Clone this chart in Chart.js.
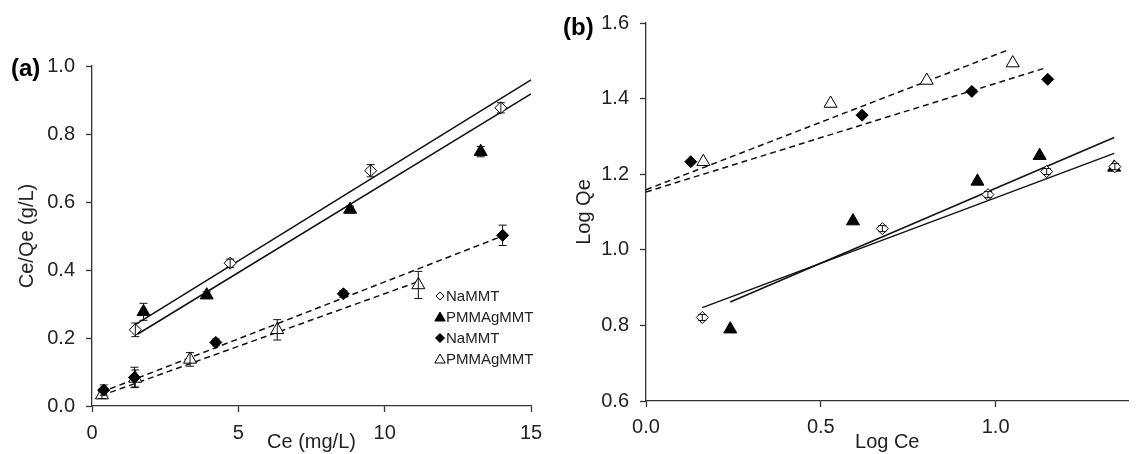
<!DOCTYPE html>
<html>
<head>
<meta charset="utf-8">
<script src="https://cdn.jsdelivr.net/npm/chart.js@4.4.0/dist/chart.umd.min.js"></script>
<style>
  html, body { margin: 0; padding: 0; background: #fff; overflow: hidden; }
  .panel { position: absolute; top: 0; }
</style>
</head>
<body>
<div class="panel" style="left:0"><canvas id="chartA" width="560" height="454"></canvas></div>
<div class="panel" style="left:560px"><canvas id="chartB" width="577" height="454"></canvas></div>
<script>
// ---- Panel (a): Langmuir, Ce vs Ce/Qe ----
const aNaOpenX = [1.48, 4.72, 9.52, 13.97];
const aNaOpenY = [0.224, 0.42, 0.692, 0.877];
const aNaOpenErr = [0.02, 0.012, 0.018, 0.015];
const aPmFillX = [1.76, 3.92, 8.82, 13.28];
const aPmFillY = [0.277, 0.326, 0.578, 0.748];
const aPmFillErr = [0.025, 0.01, 0.01, 0.015];
const aNaFillX = [0.4, 1.45, 4.23, 8.59, 14.03];
const aNaFillY = [0.047, 0.084, 0.187, 0.33, 0.502];
const aNaFillErr = [0.015, 0.03, 0.01, 0.01, 0.03];
const aPmOpenX = [0.34, 1.48, 3.35, 6.33, 11.15];
const aPmOpenY = [0.032, 0.081, 0.137, 0.224, 0.356];
const aPmOpenErr = [0.01, 0.025, 0.02, 0.03, 0.04];
// fitted lines, end points
const aFitSolid1X = [1.45, 15], aFitSolid1Y = [0.238, 0.959];
const aFitSolid2X = [1.55, 15], aFitSolid2Y = [0.211, 0.918];
const aFitDash1X = [0.3, 14.03], aFitDash1Y = [0.04, 0.50];
const aFitDash2X = [0.3, 11.15], aFitDash2Y = [0.03, 0.366];
const aLegend = ['NaMMT', 'PMMAgMMT', 'NaMMT', 'PMMAgMMT'];

// ---- Panel (b): Freundlich, Log Ce vs Log Qe ----
const bNaOpenX = [0.161, 0.676, 0.978, 1.146, 1.341];
const bNaOpenY = [0.821, 1.056, 1.146, 1.207, 1.22];
const bNaOpenErr = [0.008, 0.008, 0.008, 0.008, 0.008];
const bPmFillX = [0.241, 0.592, 0.948, 1.126, 1.339];
const bPmFillY = [0.79, 1.076, 1.181, 1.249, 1.218];
const bNaFillX = [0.128, 0.618, 0.932, 1.149];
const bNaFillY = [1.233, 1.356, 1.419, 1.451];
const bPmOpenX = [0.164, 0.528, 0.803, 1.049];
const bPmOpenY = [1.233, 1.387, 1.448, 1.494];
const bFitSolid1X = [0.161, 1.339], bFitSolid1Y = [0.847, 1.255];
const bFitSolid2X = [0.241, 1.339], bFitSolid2Y = [0.862, 1.297];
const bFitDash1X = [0.0, 1.039], bFitDash1Y = [1.159, 1.530];
const bFitDash2X = [0.0, 1.142], bFitDash2Y = [1.153, 1.481];

const FONT = '"Liberation Sans", Arial, sans-serif';
const INK = '#222';

const pts = (xs, ys) => xs.map((x, i) => ({ x, y: ys[i] }));

function marker(xs, ys, style, errors) {
    const open = style === 'openDiamond' || style === 'openTri';
    const shape = style.endsWith('Diamond') ? 'rectRot' : 'triangle';
    return {
        data: pts(xs, ys),
        errors,
        pointStyle: shape,
        pointRadius: shape === 'rectRot' ? 6 : 7.5,
        pointBackgroundColor: open ? '#fff' : '#000',
        pointBorderColor: '#000',
        pointBorderWidth: 1,
        showLine: false,
        order: 1
    };
}

function fitLine(xs, ys, dashed) {
    return {
        data: pts(xs, ys),
        showLine: true,
        borderColor: '#111',
        borderWidth: 1.5,
        borderDash: dashed ? [6, 4] : [],
        pointRadius: 0,
        order: 10
    };
}

const errorBars = {
    id: 'errorBars',
    afterDatasetsDraw(chart) {
        const { ctx, scales: { x, y } } = chart;
        ctx.save();
        ctx.strokeStyle = '#111';
        ctx.lineWidth = 1;
        chart.data.datasets.forEach(ds => {
            if (!ds.errors) return;
            ds.data.forEach((p, j) => {
                const e = ds.errors[j];
                if (!e) return;
                const px = x.getPixelForValue(p.x);
                const t = y.getPixelForValue(p.y + e), b = y.getPixelForValue(p.y - e);
                ctx.beginPath();
                ctx.moveTo(px, t); ctx.lineTo(px, b);
                ctx.moveTo(px - 4, t); ctx.lineTo(px + 4, t);
                ctx.moveTo(px - 4, b); ctx.lineTo(px + 4, b);
                ctx.stroke();
            });
        });
        ctx.restore();
    }
};

const panelLabel = {
    id: 'panelLabel',
    afterDraw(chart, args, opts) {
        const ctx = chart.ctx;
        ctx.save();
        ctx.font = 'bold 24px ' + FONT;
        ctx.fillStyle = '#000';
        ctx.textBaseline = 'middle';
        ctx.fillText(opts.text, opts.x, opts.y);
        ctx.restore();
    }
};

const legendA = {
    id: 'legendA',
    afterDraw(chart) {
        const ctx = chart.ctx;
        const styles = [
            { pointStyle: 'rectRot', radius: 4, fill: '#fff' },
            { pointStyle: 'triangle', radius: 6, fill: '#000' },
            { pointStyle: 'rectRot', radius: 4.5, fill: '#000' },
            { pointStyle: 'triangle', radius: 6, fill: '#fff' }
        ];
        ctx.save();
        ctx.font = '15px ' + FONT;
        ctx.textBaseline = 'middle';
        aLegend.forEach((label, i) => {
            const cy = 296 + i * 21;
            ctx.fillStyle = styles[i].fill;
            ctx.strokeStyle = '#000';
            ctx.lineWidth = 1;
            Chart.helpers.drawPoint(ctx, { pointStyle: styles[i].pointStyle, radius: styles[i].radius, borderWidth: 1 }, 440, cy + (styles[i].pointStyle === 'triangle' ? 1 : 0));
            ctx.fillStyle = INK;
            ctx.fillText(label, 446, cy + 1);
        });
        ctx.restore();
    }
};

function axes(xOpt, yOpt) {
    const common = (o) => ({
        type: 'linear',
        min: o.min, max: o.max,
        border: { display: true, color: '#333', width: 1.3 },
        grid: { drawOnChartArea: false, drawTicks: true, tickLength: 6, color: '#333', tickWidth: 1.3 },
        ticks: {
            stepSize: o.step, color: INK, font: { family: FONT, size: 20 }, padding: o.pad,
            callback: o.fmt
        },
        title: { display: true, text: o.title, color: INK, font: { family: FONT, size: 20 }, padding: o.tpad },
        afterBuildTicks: s => { s.ticks = s.ticks.filter(t => Math.abs(t.value / o.step - Math.round(t.value / o.step)) < 1e-6); },
        afterFit: o.fit
    });
    return { x: { position: 'bottom', ...common(xOpt) }, y: { position: 'left', ...common(yOpt) } };
}

new Chart(document.getElementById('chartA'), {
    type: 'scatter',
    data: {
        datasets: [
            marker(aNaOpenX, aNaOpenY, 'openDiamond', aNaOpenErr),
            marker(aPmFillX, aPmFillY, 'fillTri', aPmFillErr),
            marker(aNaFillX, aNaFillY, 'fillDiamond', aNaFillErr),
            marker(aPmOpenX, aPmOpenY, 'openTri', aPmOpenErr),
            fitLine(aFitSolid1X, aFitSolid1Y, false),
            fitLine(aFitSolid2X, aFitSolid2Y, false),
            fitLine(aFitDash1X, aFitDash1Y, true),
            fitLine(aFitDash2X, aFitDash2Y, true)
        ]
    },
    options: {
        responsive: false,
        animation: false,
        layout: { padding: { left: 0, right: 29, top: 66, bottom: 0 } },
        plugins: {
            legend: { display: false }, tooltip: { enabled: false },
            panelLabel: { text: '(a)', x: 11, y: 69 }
        },
        scales: axes(
            { min: 0, max: 15, step: 5, pad: 9, fmt: v => String(v), title: 'Ce (mg/L)', tpad: { top: 0, bottom: 0 }, fit: s => { s.height = 48; } },
            { min: 0, max: 1, step: 0.2, pad: 11, fmt: v => v.toFixed(1), title: 'Ce/Qe (g/L)', tpad: { top: 15, bottom: 0 }, fit: s => { s.width = 92; } }
        )
    },
    plugins: [errorBars, panelLabel, legendA]
});

new Chart(document.getElementById('chartB'), {
    type: 'scatter',
    data: {
        datasets: [
            marker(bNaOpenX, bNaOpenY, 'openDiamond', bNaOpenErr),
            marker(bPmFillX, bPmFillY, 'fillTri'),
            marker(bNaFillX, bNaFillY, 'fillDiamond'),
            marker(bPmOpenX, bPmOpenY, 'openTri'),
            fitLine(bFitSolid1X, bFitSolid1Y, false),
            fitLine(bFitSolid2X, bFitSolid2Y, false),
            fitLine(bFitDash1X, bFitDash1Y, true),
            fitLine(bFitDash2X, bFitDash2Y, true)
        ]
    },
    options: {
        responsive: false,
        animation: false,
        layout: { padding: { left: 0, right: 0, top: 20, bottom: 0 } },
        plugins: {
            legend: { display: false }, tooltip: { enabled: false },
            panelLabel: { text: '(b)', x: 3, y: 28 }
        },
        scales: axes(
            { min: 0, max: 1.38, step: 0.5, pad: 8, fmt: v => v.toFixed(1), title: 'Log Ce', tpad: { top: 0, bottom: 0 }, fit: s => { s.height = 53; } },
            { min: 0.6, max: 1.6, step: 0.2, pad: 11, fmt: v => v.toFixed(1), title: 'Log Qe', tpad: { top: 12, bottom: 0 }, fit: s => { s.width = 86; } }
        )
    },
    plugins: [errorBars, panelLabel]
});
</script>
</body>
</html>
